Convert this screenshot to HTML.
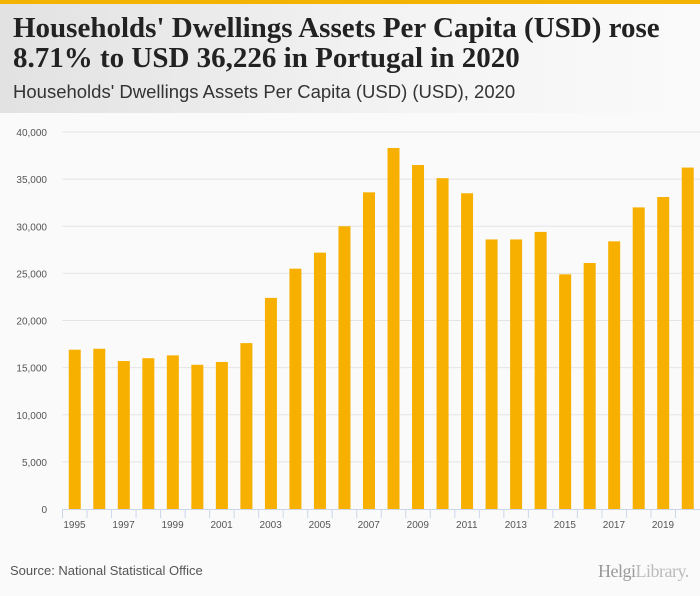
<!DOCTYPE html>
<html><head><meta charset="utf-8"><style>
body{margin:0;width:700px;height:596px;background:#fafafa;font-family:"Liberation Sans",sans-serif;overflow:hidden;position:relative}
#hdr{position:absolute;left:0;top:0;width:700px;height:113px;background:linear-gradient(90deg,#e2e2e2,#f4f4f4 60%,#fafafa)}
#bar{position:absolute;left:0;top:0;width:700px;height:4px;background:#f5b301}
h1{position:absolute;left:13px;top:13px;margin:0;font:bold 29px/30px "Liberation Serif",serif;color:#222;letter-spacing:0px;white-space:nowrap}
h2{position:absolute;left:13px;top:81px;margin:0;font:18.5px "Liberation Sans",sans-serif;color:#333;white-space:nowrap}
#src{position:absolute;left:10px;top:563px;font-size:13px;color:#555}
#logo{position:absolute;left:598px;top:561px;font:18px "Liberation Serif",serif;color:#999;letter-spacing:-0.5px}
</style></head><body>
<div id="hdr"></div>
<div id="bar"></div>
<h1>Households' Dwellings Assets Per Capita (USD) rose<br>8.71% to USD 36,226 in Portugal in 2020</h1>
<h2>Households' Dwellings Assets Per Capita (USD) (USD), 2020</h2>
<svg id="chart" width="700" height="596" style="position:absolute;left:0;top:0"></svg>
<div id="src">Source: National Statistical Office</div>
<div id="logo">Helgi<span style="color:#bbb">Library.</span></div>
<script>
const years=[1995,1996,1997,1998,1999,2000,2001,2002,2003,2004,2005,2006,2007,2008,2009,2010,2011,2012,2013,2014,2015,2016,2017,2018,2019,2020];
const values=[16900,17000,15700,16000,16300,15300,15600,17600,22400,25500,27200,30000,33600,38300,36500,35100,33500,28600,28600,29400,24900,26100,28400,32000,33100,36226];
const yTicks=[0,5000,10000,15000,20000,25000,30000,35000,40000];
const ns="http://www.w3.org/2000/svg";
const svg=document.getElementById('chart');
const x0=62.5,x1=700,yTop=132,yBot=509,maxV=40000;
const step=(x1-x0)/years.length;
const y=v=>yBot-(v/maxV)*(yBot-yTop);
const xC=i=>x0+step*(i+0.5);
function mk(t,a){const e=document.createElementNS(ns,t);for(const k in a)e.setAttribute(k,a[k]);svg.appendChild(e);return e;}
yTicks.forEach(t=>{
  const g=mk('line',{x1:x0,x2:700,y1:y(t),y2:y(t),stroke:t===0?'#fafafa':'#e4e4e4','stroke-width':1});
  
  
  const l=mk('text',{x:47,y:y(t)+4,'text-anchor':'end','font-size':10,fill:'#555','font-family':'Liberation Sans,sans-serif'});
  l.textContent=t.toLocaleString('en-US');
  
  
});
const ax=mk('line',{x1:x0,x2:700,y1:yBot+0.5,y2:yBot+0.5,stroke:'#ccd6eb'});


years.forEach((yr,i)=>{
  const tx=x0+step*i;
  const tk=mk('line',{x1:tx,x2:tx,y1:yBot,y2:yBot+9,stroke:'#ccd6eb'});
  
  
  const r=mk('rect',{x:xC(i)-6,y:y(values[i]),width:12,height:yBot-y(values[i]),fill:'#f7b000'});
  
  
  if(i%2===0){
    const l=mk('text',{x:tx+12,y:528,'text-anchor':'middle','font-size':10,fill:'#555','font-family':'Liberation Sans,sans-serif'});
    l.textContent=yr;
    
    
  }
});
</script>
</body></html>
